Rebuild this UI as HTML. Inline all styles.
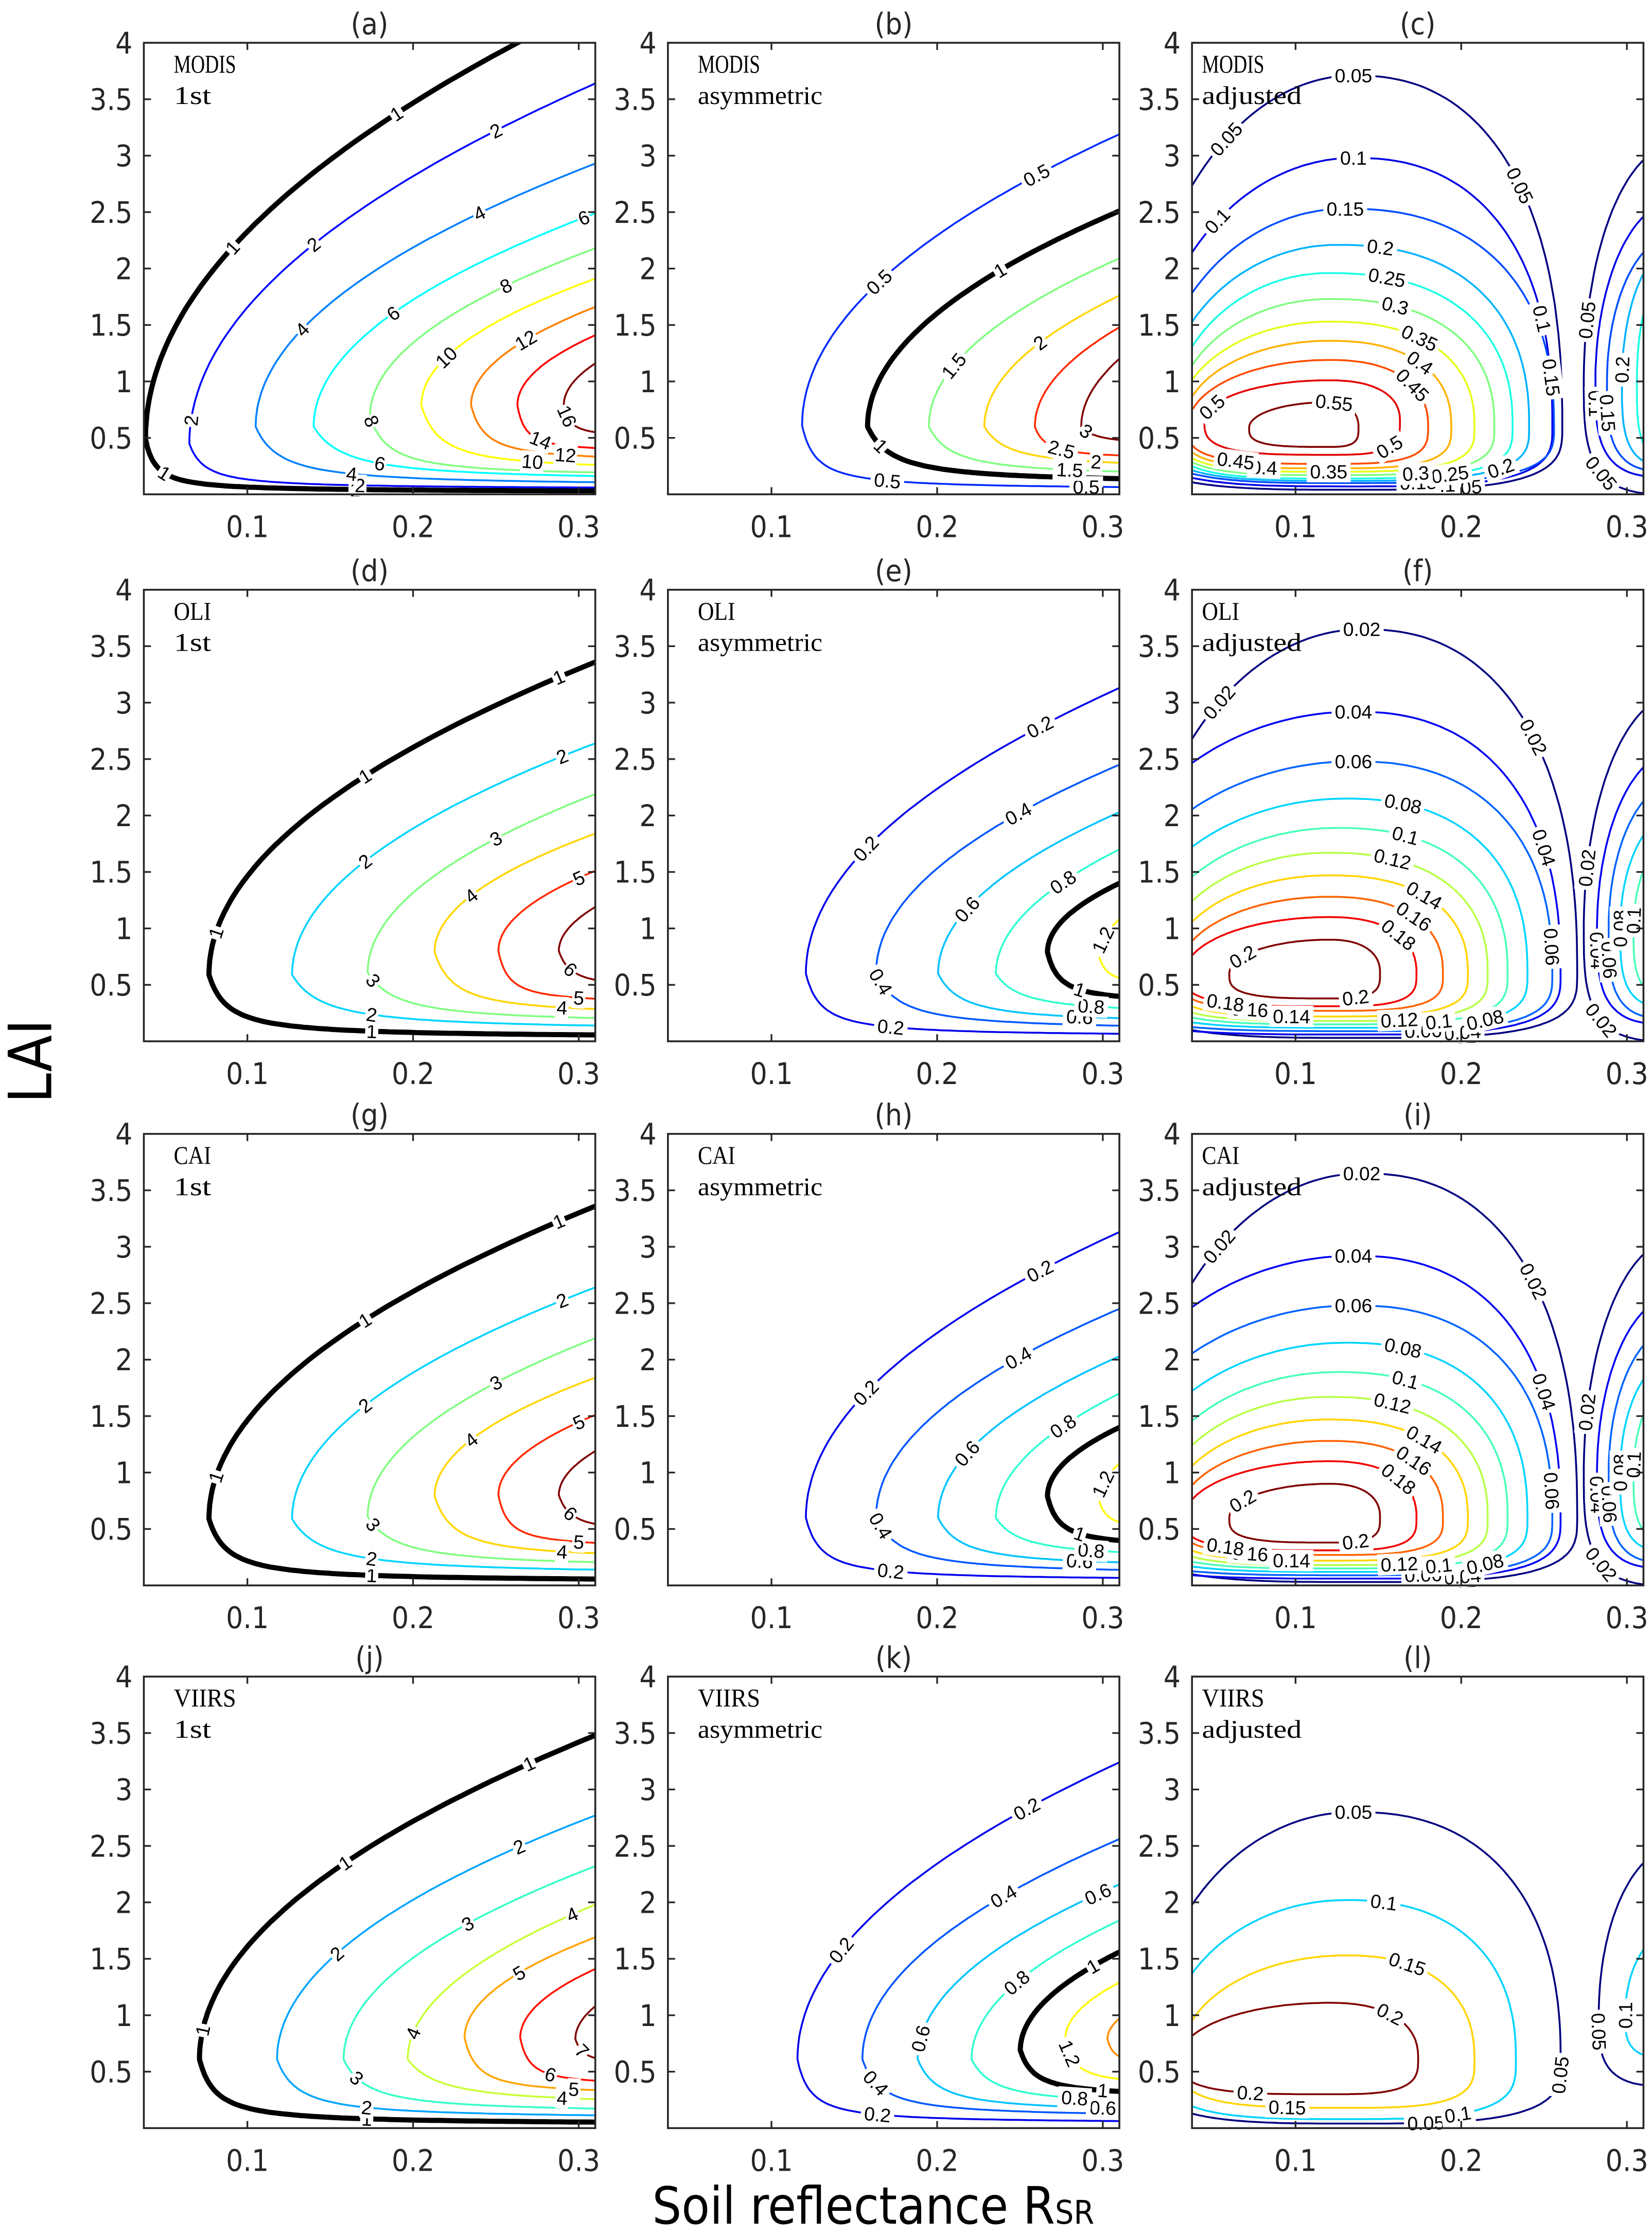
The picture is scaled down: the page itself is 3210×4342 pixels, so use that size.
<!DOCTYPE html>
<html><head><meta charset="utf-8">
<style>
html,body{margin:0;padding:0;background:#fff;}
svg{display:block;}
.tick{font-family:"DejaVu Sans Condensed","DejaVu Sans","Liberation Sans",sans-serif;font-size:21px;fill:#262626;}
.ttl{font-family:"DejaVu Sans Condensed","DejaVu Sans","Liberation Sans",sans-serif;font-size:21px;fill:#262626;}
.ann{font-family:"Liberation Serif",serif;font-size:18px;fill:#000;}
.lab{font-family:"Liberation Sans",sans-serif;font-size:13.5px;fill:#000;}
</style></head>
<body>
<svg id="fig" width="3210" height="4342" viewBox="0 0 1160 1569" xmlns="http://www.w3.org/2000/svg">
<rect width="1160" height="1569" fill="#fff"/>
<text transform="translate(36,745) rotate(-90)" text-anchor="middle" style="font-family:'DejaVu Sans Condensed','DejaVu Sans',sans-serif;font-size:42px;fill:#000">LAI</text>
<text x="458" y="1561" style="font-family:'DejaVu Sans Condensed','DejaVu Sans',sans-serif;font-size:36px;fill:#000">Soil reflectance R<tspan style="font-size:23px">SR</tspan></text>
</svg>
<script>
// ---- axis ticks ----
const xTicks=[0.1,0.2,0.3];
const yTicks=[0.5,1,1.5,2,2.5,3,3.5,4];

// ---- C-shaped contour data: [level, noseR, noseL, exitR, exitL, baseL, decay] ----
const aContours=[[1,.0385,.49,.263,4.0,.02,.0064],[2,.065,.45,.31,3.64,.045,.0096],[4,.105,.6,.31,2.93,.07,.0155],[6,.14,.6,.31,2.49,.11,.02],[8,.174,.69,.31,2.18,.15,.012],[10,.205,.79,.31,1.91,.2,.012],[12,.235,.79,.31,1.66,.28,.009],[14,.263,.79,.31,1.41,.37,.005],[16,.291,.79,.31,1.16,.5,.004]];
const aUpLabels=[[.091,.19],[.066,.14,.25],[.133,.24],[.188,.303],[.256],[.22],[.268],[],[]];
const aLowLabels=[[.05,.165],[.168],[.163],[.18],[.175],[.272],[.292],[.277],[.293]];

const bContours=[[.5,.1185,.61,.31,3.19,.04,.0086],[1,.158,.6,.31,2.51,.09,.016],[1.5,.195,.6,.31,2.09,.15,.015],[2,.2285,.6,.31,1.76,.22,.015],[2.5,.259,.6,.31,1.48,.31,.007],[3,.287,.6,.31,1.2,.43,.01]];
const bUpLabels=[[.165,.26],[.238],[.21],[.262],[],[]];
const bLowLabels=[[.17,.29],[.166],[.28],[.296],[.275],[.29]];

const dContours=[[1,.0768,.59,.31,3.36,.03,.0116],[2,.127,.59,.31,2.64,.09,.02],[3,.1726,.61,.31,2.19,.15,.019],[4,.213,.79,.31,1.84,.22,.0125],[5,.2515,.8,.31,1.51,.33,.0066],[6,.288,.8,.31,1.19,.45,.008]];
const dUpLabels=[[.081,.171,.288],[.171,.29],[.25],[.235],[.3],[]];
const dLowLabels=[[.175],[.175],[.176],[.29],[.3],[.295]];

const eContours=[[.2,.1208,.6,.31,3.13,.04,.0094],[.4,.1632,.61,.31,2.45,.09,.015],[.6,.2006,.6,.31,2.03,.15,.015],[.8,.2355,.6,.31,1.7,.23,.016],[1,.2666,.79,.31,1.4,.33,.0075],[1.2,.2977,.76,.31,1.08,.48,.005]];
const eUpLabels=[[.157,.262],[.249],[.218],[.276],[],[.3]];
const eLowLabels=[[.172],[.166],[.286],[.293],[.286],[]];

const gContours=[[1,.0768,.59,.31,3.36,.03,.0116],[2,.127,.59,.31,2.64,.09,.02],[3,.1726,.61,.31,2.19,.15,.019],[4,.213,.79,.31,1.84,.22,.0125],[5,.2515,.8,.31,1.51,.33,.0066],[6,.288,.8,.31,1.19,.45,.008]];
const gUpLabels=[[.081,.171,.288],[.171,.29],[.25],[.235],[.3],[]];
const gLowLabels=[[.175],[.175],[.176],[.29],[.3],[.295]];

const hContours=[[.2,.1208,.6,.31,3.13,.04,.0094],[.4,.1632,.61,.31,2.45,.09,.015],[.6,.2006,.6,.31,2.03,.15,.015],[.8,.2355,.6,.31,1.7,.23,.016],[1,.2666,.79,.31,1.4,.33,.0075],[1.2,.2977,.76,.31,1.08,.48,.005]];
const hUpLabels=[[.157,.262],[.249],[.218],[.276],[],[.3]];
const hLowLabels=[[.172],[.166],[.286],[.293],[.286],[]];

const jContours=[[1,.0711,.61,.31,3.48,.03,.01],[2,.1179,.61,.31,2.77,.08,.013],[3,.1581,.61,.31,2.32,.13,.015],[4,.1968,.61,.31,1.98,.19,.021],[5,.2311,.8,.31,1.69,.29,.008],[6,.2647,.8,.31,1.41,.37,.006],[7,.298,.79,.31,1.08,.55,.005]];
const jUpLabels=[[.073,.159,.27],[.154,.264],[.233],[.2,.296],[.264],[],[]];
const jLowLabels=[[.172],[.172],[.166],[.29],[.297],[.283],[.302]];

const kContours=[[.2,.1157,.61,.31,3.24,.04,.008],[.4,.1549,.61,.31,2.56,.09,.012],[.6,.1883,.61,.31,2.16,.13,.013],[.8,.2208,.61,.31,1.84,.19,.014],[1,.2502,.69,.31,1.56,.27,.009],[1.2,.2774,.79,.31,1.29,.37,.006],[1.4,.3028,.79,.31,.97,.55,.004]];
const kUpLabels=[[.142,.254],[.24],[.19,.297],[.248],[.294],[],[]];
const kLowLabels=[[.164],[.163],[.3],[.283],[.3],[.28],[]];

// ---- closed-loop contour data: [level, centerR, centerL, leftR, rightR, topL, bottomL] (radii) ----
const cMain=[[.05,.135,.6,.134,.126,3.11,.56],[.1,.135,.6,.128,.12,2.38,.53],[.15,.13,.6,.117,.126,1.93,.5],[.2,.125,.6,.107,.116,1.61,.48],[.25,.12,.6,.0965,.111,1.36,.46],[.3,.12,.6,.094,.1,1.13,.43],[.35,.12,.6,.092,.088,.93,.4],[.4,.12,.6,.088,.074,.76,.37],[.45,.12,.6,.085,.06,.59,.33],[.5,.12,.65,.075,.043,.36,.3],[.55,.119,.59,.047,.019,.225,.17]];
const cMainLabels=[[90,125,40,-70],[90,130,20,-75],[90,140,10,-80],[80,145,-40],[75,150,-60],[70,155,-70],[55,160,-90],[45,165,-105],[35,175,-120],[-40,160],[80]];
const cRight=[[.05,.33,1,.056,.05,2.1,1.0],[.1,.33,1,.049,.05,1.6,.85],[.15,.33,1,.042,.05,1.3,.8],[.2,.33,1,.033,.05,1.2,.75],[.25,.33,1,.024,.05,1.1,.7]];
const cRightLabels=[[165,-135],[185],[190],[175],[170]];

const fMain=[[.02,.14,.6,.14,.13,3.05,.57],[.04,.135,.6,.164,.125,2.32,.54],[.06,.135,.6,.154,.12,1.88,.51],[.08,.13,.6,.134,.11,1.55,.48],[.1,.125,.6,.117,.103,1.29,.45],[.12,.12,.6,.103,.096,1.07,.42],[.14,.12,.6,.097,.084,.87,.38],[.16,.12,.6,.091,.069,.68,.33],[.18,.12,.6,.087,.053,.5,.29],[.2,.12,.6,.06,.031,.3,.22]];
const fMainLabels=[[90,128,40,-75],[90,130,25,-70],[90,140,5,-80],[75,150,-50],[70,155,-65],[70,160,-75],[50,165,-95],[45,170,-110],[40,185,-125],[150,-70]];
const fRight=[[.02,.33,1,.056,.05,2.07,1.0],[.04,.33,1,.048,.05,1.57,.85],[.06,.33,1,.041,.05,1.29,.8],[.08,.33,1,.034,.05,1.02,.7],[.1,.33,1,.026,.05,.8,.6]];
const fRightLabels=[[165,-135],[185],[190],[180],[175]];

const iMain=[[.02,.14,.6,.14,.13,3.05,.57],[.04,.135,.6,.164,.125,2.32,.54],[.06,.135,.6,.154,.12,1.88,.51],[.08,.13,.6,.134,.11,1.55,.48],[.1,.125,.6,.117,.103,1.29,.45],[.12,.12,.6,.103,.096,1.07,.42],[.14,.12,.6,.097,.084,.87,.38],[.16,.12,.6,.091,.069,.68,.33],[.18,.12,.6,.087,.053,.5,.29],[.2,.12,.6,.06,.031,.3,.22]];
const iMainLabels=[[90,128,40,-75],[90,130,25,-70],[90,140,5,-80],[75,150,-50],[70,155,-65],[70,160,-75],[50,165,-95],[45,170,-110],[40,185,-125],[150,-70]];
const iRight=[[.02,.33,1,.056,.05,2.07,1.0],[.04,.33,1,.048,.05,1.57,.85],[.06,.33,1,.041,.05,1.29,.8],[.08,.33,1,.034,.05,1.02,.7],[.1,.33,1,.026,.05,.8,.6]];
const iRightLabels=[[165,-135],[185],[190],[180],[175]];

const lMain=[[.05,.135,.6,.125,.125,2.2,.56],[.1,.13,.6,.11,.103,1.42,.52],[.15,.13,.6,.1,.078,.93,.42],[.2,.12,.62,.09,.054,.49,.32]];
const lMainLabels=[[90,140,-5,-80],[80,150,-60],[65,160,-100],[50,165,-110]];
const lRight=[[.05,.33,1,.047,.05,1.49,.63],[.1,.33,1,.031,.05,.76,.38]];
const lRightLabels=[[185],[180]];

// ---- layout ----
const X0=0.0375, X1=0.31, Y0=0, Y1=4, PW=317, PH=317;
const colLeft=[101,469,837], rowTop=[30,414,796,1177];
const NS='http://www.w3.org/2000/svg';
const fig=document.getElementById('fig');
function mk(tag,attrs,parent){const e=document.createElementNS(NS,tag);for(const k in attrs)e.setAttribute(k,attrs[k]);(parent||fig).appendChild(e);return e;}
function jet(t){t=Math.max(0,Math.min(1,t));const c=v=>Math.round(255*Math.max(0,Math.min(1,v)));return `rgb(${c(1.5-Math.abs(4*t-3))},${c(1.5-Math.abs(4*t-2))},${c(1.5-Math.abs(4*t-1))})`;}
function fmt(v){return String(+v.toFixed(3));}

function makeAxes(col,row,id,sensor,kind){
  const L=colLeft[col],T=rowTop[row];
  const sx=R=>L+(R-X0)/(X1-X0)*PW, sy=V=>T+(Y1-V)/(Y1-Y0)*PH;
  const g=mk('g',{});
  
  
  mk('clipPath',{id:'clip'+id},g).appendChild((()=>{const r=document.createElementNS(NS,'rect');r.setAttribute('x',L);r.setAttribute('y',T);r.setAttribute('width',PW);r.setAttribute('height',PH);return r;})());
  const plot=mk('g',{'clip-path':`url(#clip${id})`},g);
  
  
  const labels=mk('g',{},g);
  
  
  const frame=mk('rect',{x:L,y:T,width:PW,height:PH,fill:'none',stroke:'#262626','stroke-width':1.3},g);
  
  
  xTicks.forEach(v=>{const x=sx(v);
    mk('line',{x1:x,y1:T+PH,x2:x,y2:T+PH-5,stroke:'#262626','stroke-width':1.2},g);
    mk('line',{x1:x,y1:T,x2:x,y2:T+5,stroke:'#262626','stroke-width':1.2},g);
    const t=mk('text',{x:x,y:T+PH+30,'text-anchor':'middle',class:'tick'},g);t.textContent=fmt(v);
    
    
  });
  yTicks.forEach(v=>{const y=sy(v);
    mk('line',{x1:L,y1:y,x2:L+5,y2:y,stroke:'#262626','stroke-width':1.2},g);
    mk('line',{x1:L+PW,y1:y,x2:L+PW-5,y2:y,stroke:'#262626','stroke-width':1.2},g);
    const t=mk('text',{x:L-8,y:y+7.5,'text-anchor':'end',class:'tick'},g);t.textContent=fmt(v);
    
    
  });
  const tt=mk('text',{x:L+PW/2,y:T-6,'text-anchor':'middle',class:'ttl'},g);tt.textContent='('+id+')';
  
  
  const ax=kind==='adjusted'?L+7:L+21;
  const a1=mk('text',{x:ax,y:T+21,class:'ann',textLength:sensor.length*8.75,lengthAdjust:'spacingAndGlyphs'},g);a1.textContent=sensor;
  
  
  const a2=mk('text',{x:ax,y:T+43,class:'ann',textLength:kind.length*8.75,lengthAdjust:'spacingAndGlyphs'},g);a2.textContent=kind;
  
  
  return {sx,sy,plot,labels,L,T};
}

function drawLabel(ax,pf,p,txt){
  const a=pf(p), b=pf(p+1e-3), c=pf(p-1e-3);
  const x=ax.sx(a[0]), y=ax.sy(a[1]);
  if(x<ax.L+8||x>ax.L+PW-6||y<ax.T+6||y>ax.T+PH-3) return;
  let ang=Math.atan2(ax.sy(b[1])-ax.sy(c[1]),ax.sx(b[0])-ax.sx(c[0]))*180/Math.PI;
  if(ang>90)ang-=180; if(ang<-90)ang+=180;
  const g=mk('g',{transform:`translate(${x.toFixed(1)},${y.toFixed(1)}) rotate(${ang.toFixed(1)})`},ax.labels);
  
  
  const w=txt.length*7.2+2;
  mk('rect',{x:-w/2,y:-7.5,width:w,height:15,fill:'#fff'},g);
  const t=mk('text',{x:0,y:4.8,'text-anchor':'middle',class:'lab'},g);t.textContent=txt;
}

function drawC(col,row,id,sensor,contours,up,low,cmax){
  const ax=makeAxes(col,row,id,sensor,contours===bContours||contours===eContours||contours===hContours||contours===kContours?'asymmetric':'1st');
  contours.forEach((c,i)=>{
    const [lv,nR,nL,uR,uL,bL,w]=c;
    const a=(uL-nL)/Math.sqrt(uR-nR);
    const upF=R=>[R,nL+a*Math.sqrt(Math.max(0,R-nR))];
    const lowF=R=>[R,bL+(nL-bL)*w/(w+Math.max(0,R-nR))];
    const pts=[], smax=0.34-nR, N=90;
    for(let k=N;k>=0;k--){const s=smax*(k/N)*(k/N);const p=upF(nR+s);pts.push([ax.sx(p[0]),ax.sy(Math.min(p[1],4.3))]);}
    for(let k=1;k<=N;k++){const s=smax*(k/N)*(k/N);const p=lowF(nR+s);pts.push([ax.sx(p[0]),ax.sy(p[1])]);}
    const black=lv===1;
    const path=mk('path',{d:'M'+pts.map(p=>p[0].toFixed(1)+','+p[1].toFixed(1)).join('L'),fill:'none',stroke:black?'#000':jet(lv/cmax),'stroke-width':black?3.6:1.3,'stroke-linejoin':'round'},ax.plot);
    
    
    (up[i]||[]).forEach(R=>drawLabel(ax,upF,R,fmt(lv)));
    (low[i]||[]).forEach(R=>drawLabel(ax,lowF,R,fmt(lv)));
  });
}

function loopF(c){
  const [lv,cR,cL,rl,rr,rt,rb]=c;
  return deg=>{const t=deg*Math.PI/180;const co=Math.cos(t),si=Math.sin(t);
    const e=si>=0?(co>=0?0.85:1):0.6;
    const xs=Math.sign(co)*Math.pow(Math.abs(co),e), ys=Math.sign(si)*Math.pow(Math.abs(si),e);
    return [cR+(co>=0?rr:rl)*xs, cL+(si>=0?rt:rb)*ys];};
}

function drawLoops(col,row,id,sensor,main,mainLab,right,rightLab){
  const ax=makeAxes(col,row,id,sensor,'adjusted');
  const lvs=main.map(c=>c[0]);const mn=Math.min(...lvs),mxv=Math.max(...lvs);
  [[main,mainLab],[right,rightLab]].forEach(([set,labs])=>{
    set.forEach((c,i)=>{
      const f=loopF(c);const pts=[];
      for(let k=0;k<=240;k++){const p=f(k*1.5);pts.push(ax.sx(p[0]).toFixed(1)+','+ax.sy(p[1]).toFixed(1));}
      const path=mk('path',{d:'M'+pts.join('L')+'Z',fill:'none',stroke:jet((c[0]-mn)/(mxv-mn)),'stroke-width':1.3,'stroke-linejoin':'round'},ax.plot);
      
      
      (labs[i]||[]).forEach(d=>drawLabel(ax,f,d,fmt(c[0])));
    });
  });
}

drawC(0,0,'a','MODIS',aContours,aUpLabels,aLowLabels,16);
drawC(1,0,'b','MODIS',bContours,bUpLabels,bLowLabels,3);
drawLoops(2,0,'c','MODIS',cMain,cMainLabels,cRight,cRightLabels);
drawC(0,1,'d','OLI',dContours,dUpLabels,dLowLabels,6);
drawC(1,1,'e','OLI',eContours,eUpLabels,eLowLabels,1.9);
drawLoops(2,1,'f','OLI',fMain,fMainLabels,fRight,fRightLabels);
drawC(0,2,'g','CAI',gContours,gUpLabels,gLowLabels,6);
drawC(1,2,'h','CAI',hContours,hUpLabels,hLowLabels,1.9);
drawLoops(2,2,'i','CAI',iMain,iMainLabels,iRight,iRightLabels);
drawC(0,3,'j','VIIRS',jContours,jUpLabels,jLowLabels,7);
drawC(1,3,'k','VIIRS',kContours,kUpLabels,kLowLabels,1.9);
drawLoops(2,3,'l','VIIRS',lMain,lMainLabels,lRight,lRightLabels);
</script>
</body></html>
